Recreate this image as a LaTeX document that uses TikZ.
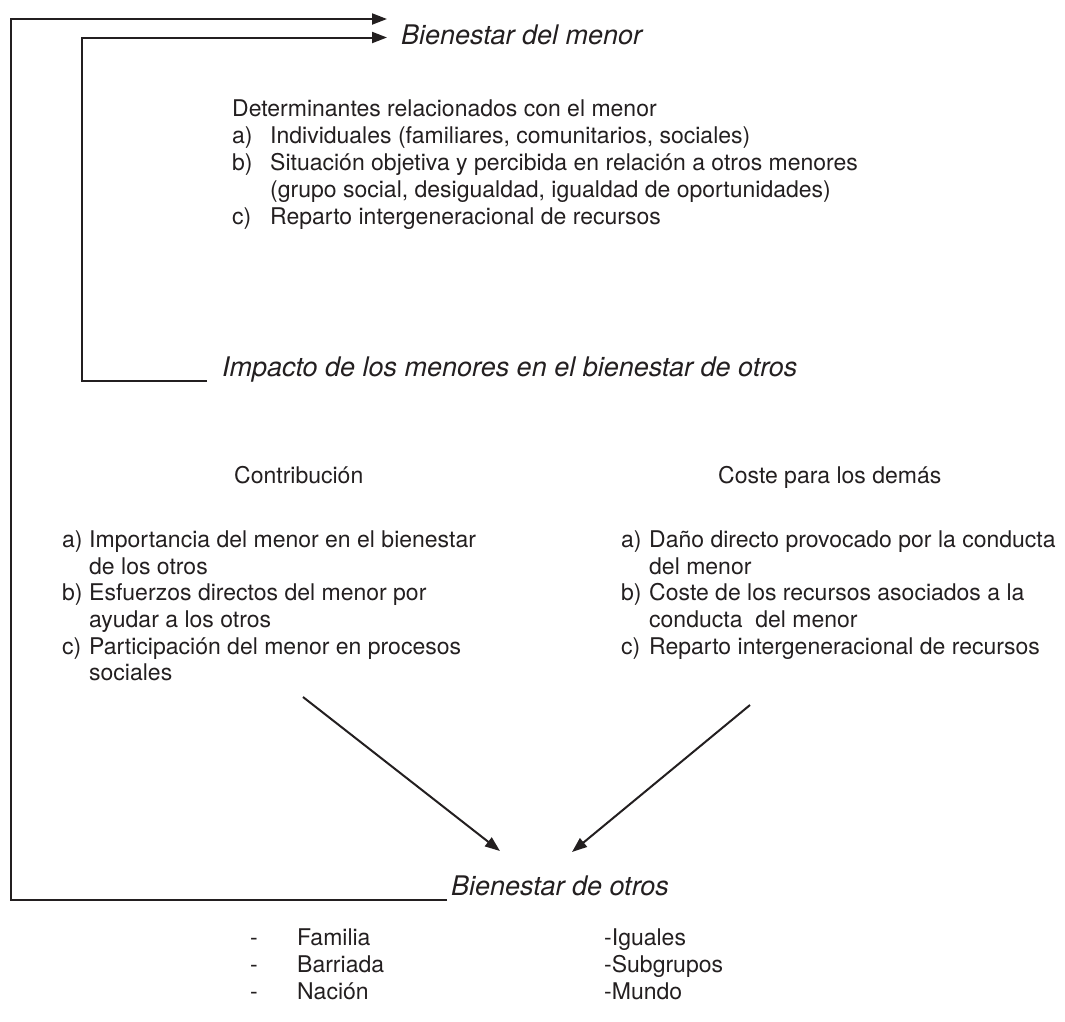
\documentclass[tikz,border=0pt]{standalone}
\usepackage{fontspec}
\setmainfont{TeX Gyre Heros}
\usetikzlibrary{arrows.meta}
\definecolor{ink}{HTML}{231F20}
\begin{document}
\begin{tikzpicture}[x=1pt,y=-1pt,
  txt/.style={anchor=base west,inner sep=0pt,text=ink,font=\fontsize{23}{27}\selectfont},
  ttl/.style={anchor=base west,inner sep=0pt,text=ink,font=\fontsize{27}{32}\selectfont\itshape},
  ln/.style={draw=ink,line width=2pt},
  arr/.style={ln,-{Triangle[length=15pt,width=11pt]}}]
\useasboundingbox (0,0) rectangle (1065,1021);
% titles
\node[ttl] (bm) at (401,44) {Bienestar del menor};
\node[ttl] (imp) at (222,376) {Impacto de los menores en el bienestar de otros};
\node[ttl] (bo) at (451,895) {Bienestar de otros};
% determinantes
\node[txt] (d0) at (232,116) {Determinantes relacionados con el menor};
\node[txt] (da) at (232,143) {a)};
\node[txt] (dat) at (270,143) {Individuales (familiares, comunitarios, sociales)};
\node[txt] (db) at (232,170) {b)};
\node[txt] (dbt) at (270,170) {Situación objetiva y percibida en relación a otros menores};
\node[txt] (dbt2) at (270,197) {(grupo social, desigualdad, igualdad de oportunidades)};
\node[txt] (dc) at (232,224) {c)};
\node[txt] (dct) at (270,224) {Reparto intergeneracional de recursos};
% columns
\node[txt] (ch) at (234,483) {Contribución};
\node[txt] (kh) at (718,483) {Coste para los demás};
\node[txt] (ca) at (62,547) {a)};
\node[txt] (cat) at (89,547) {Importancia del menor en el bienestar};
\node[txt] (cat2) at (89,574) {de los otros};
\node[txt] (cb) at (62,600) {b)};
\node[txt] (cbt) at (89,600) {Esfuerzos directos del menor por};
\node[txt] (cbt2) at (89,627) {ayudar a los otros};
\node[txt] (cc) at (62,654) {c)};
\node[txt] (cct) at (89,654) {Participación del menor en procesos};
\node[txt] (cct2) at (89,680) {sociales};
\node[txt] (ka) at (621,547) {a)};
\node[txt] (kat) at (649,547) {Daño directo provocado por la conducta};
\node[txt] (kat2) at (649,574) {del menor};
\node[txt] (kb) at (621,600) {b)};
\node[txt] (kbt) at (649,600) {Coste de los recursos asociados a la};
\node[txt] (kbt2) at (649,627) {conducta\ \ del menor};
\node[txt] (kc) at (621,654) {c)};
\node[txt] (kct) at (649,654) {Reparto intergeneracional de recursos};
% bottom list
\node[txt] (f1) at (250,945) {-};
\node[txt] (f1t) at (297,945) {Familia};
\node[txt] (f2) at (250,972) {-};
\node[txt] (f2t) at (297,972) {Barriada};
\node[txt] (f3) at (250,999) {-};
\node[txt] (f3t) at (297,999) {Nación};
\node[txt] (g1) at (604,945) {-Iguales};
\node[txt] (g2) at (604,972) {-Subgrupos};
\node[txt] (g3) at (604,999) {-Mundo};
% connector coordinates
\coordinate (oBL) at (11,900);
\coordinate (oTL) at (11,19);
\coordinate (oT) at (387,19);
\coordinate (iBL) at (82,381);
\coordinate (iBR) at (207,381);
\coordinate (iTL) at (82,37.5);
\coordinate (iT) at (387,37.5);
\coordinate (oBR) at (447,900);
\coordinate (cs) at (303,697);
\coordinate (ce) at (500,851);
\coordinate (ks) at (750,705);
\coordinate (ke) at (572,852);
% connectors
\draw[arr] (oBR) -- (oBL) -- (oTL) -- (oT);
\draw[arr] (iBR) -- (iBL) -- (iTL) -- (iT);
\draw[arr] (cs) -- (ce);
\draw[arr] (ks) -- (ke);
\end{tikzpicture}
\end{document}
